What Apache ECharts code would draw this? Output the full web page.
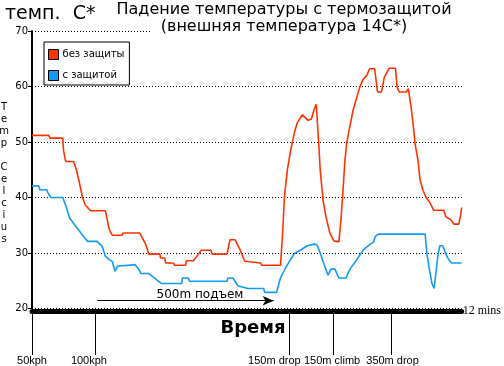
<!DOCTYPE html>
<html><head><meta charset="utf-8">
<script src="https://cdn.jsdelivr.net/npm/echarts@6/dist/echarts.min.js"></script>
<style>html,body{margin:0;padding:0;background:#fff}#c{width:504px;height:366px}</style>
</head><body><div id="c"></div>
<script>
// time in minutes, temperature in °C
const redTime = [0.00,0.47,0.50,0.86,0.88,0.94,1.16,1.24,1.33,1.41,1.49,1.58,1.63,2.05,2.10,2.16,2.24,2.52,2.54,3.01,3.10,3.18,3.26,3.57,3.59,3.71,3.73,3.95,3.98,4.29,4.31,4.51,4.65,4.73,5.00,5.03,5.45,5.53,5.67,5.81,5.94,5.97,6.39,6.41,6.94,7.00,7.05,7.13,7.22,7.33,7.41,7.55,7.60,7.71,7.80,7.88,7.94,8.02,8.05,8.13,8.21,8.32,8.43,8.57,8.63,8.68,8.74,8.79,8.88,8.96,9.04,9.15,9.24,9.35,9.43,9.57,9.65,9.76,9.84,9.98,10.15,10.20,10.26,10.45,10.51,10.59,10.65,10.70,10.78,10.84,10.92,11.00,11.11,11.22,11.50,11.56,11.70,11.78,11.92,11.97,12.00];
const redTemp = [51.2,51.2,50.7,50.7,48.5,46.5,46.5,45.0,42.5,40.0,38.6,38.0,37.6,37.6,36.0,34.2,33.2,33.2,33.6,33.6,32.5,31.5,29.8,29.8,29.1,29.1,28.2,28.2,27.8,27.8,28.6,28.6,29.8,30.5,30.5,29.8,29.8,32.4,32.4,30.6,28.5,28.2,28.2,27.8,27.8,33.6,40.1,44.9,48.4,51.7,53.5,54.9,55.0,53.9,54.1,55.9,56.8,48.4,44.9,39.5,36.5,33.6,32.2,32.0,36.0,40.7,46.7,49.9,52.9,55.5,57.4,59.8,61.2,62.0,63.2,63.2,59.0,59.0,61.7,63.3,63.3,59.8,59.0,59.0,59.6,56.2,52.9,49.6,46.7,43.1,41.3,40.1,39.1,37.7,37.7,36.5,36.0,35.2,35.2,36.8,38.2];

const blueTime = [0.00,0.19,0.22,0.41,0.47,0.53,0.86,0.97,1.05,1.19,1.33,1.47,1.55,1.82,1.96,2.05,2.16,2.24,2.32,2.38,2.43,2.88,2.99,3.04,3.26,3.40,3.54,3.62,4.18,4.20,4.37,4.40,5.45,5.47,5.61,5.75,6.03,6.47,6.50,6.83,6.94,7.08,7.22,7.33,7.49,7.69,7.88,7.96,8.05,8.16,8.27,8.35,8.46,8.57,8.77,8.88,9.07,9.26,9.43,9.54,9.59,9.68,10.98,11.03,11.09,11.17,11.23,11.28,11.34,11.39,11.47,11.56,11.64,11.72,12.00];
const blueTemp = [42.1,42.1,41.4,41.4,40.5,40.0,40.0,38.0,36.3,35.1,33.9,32.7,32.1,32.1,31.2,29.4,28.8,28.5,26.7,27.6,27.9,27.9,27.0,26.3,26.3,25.6,24.9,24.5,24.5,25.5,25.5,24.9,24.9,25.5,25.5,24.1,23.6,23.6,22.9,22.9,25.5,27.3,28.8,29.9,30.5,31.3,31.6,31.5,30.0,27.9,26.0,27.1,27.1,25.5,25.5,27.1,28.8,30.6,31.5,32.0,33.0,33.4,33.4,29.8,27.4,24.5,23.6,26.3,29.8,31.3,31.3,29.8,28.8,28.2,28.2];

const seriesNames = ['без защиты', 'с защитой'];
const yTicks = [20, 30, 40, 50, 60, 70];
const eventTicks = [0, 1.77, 7.19, 8.41, 10.04];
const eventLabelPos = [0, 1.59, 6.77, 8.38, 10.07];
const eventLabels = ['50kph', '100kph', '150m drop', '150m climb', '350m drop'];
const climbArrow = [[1.82, 21.4], [6.75, 21.4]];

const zip = (a, b) => a.map((v, i) => [v, b[i]]);

const chart = echarts.init(document.getElementById('c'), null, {renderer: 'canvas'});
chart.setOption({
  animation: false,
  backgroundColor: '#fff',
  grid: {left: 32, top: 31, width: 434, height: 280},
  legend: {
    left: 44, top: 42, orient: 'vertical', icon: 'rect',
    itemWidth: 10, itemHeight: 10, itemGap: 10,
    padding: [7, 5, 4, 4], borderColor: '#000', borderWidth: 1,
    backgroundColor: '#fff',
    itemStyle: {borderColor: '#000', borderWidth: 1},
    textStyle: {fontFamily: 'DejaVu Sans', fontSize: 10, color: '#000', padding: [0,0,0,-1]},
    data: seriesNames
  },
  xAxis: {
    type: 'value', min: 0, max: 12, offset: 2.5,
    name: '12 mins', nameLocation: 'end', nameGap: 1,
    nameTextStyle: {fontFamily: 'Liberation Serif', fontSize: 12, color: '#000'},
    axisLine: {show: true, lineStyle: {color: '#000', width: 5}},
    axisTick: {show: true, customValues: eventTicks, length: 44, lineStyle: {color: '#000', width: 1}},
    axisLabel: {
      show: true, customValues: eventLabelPos, margin: 44,
      fontFamily: 'Liberation Sans', fontSize: 11, color: '#000',
      formatter: v => { const i = eventLabelPos.findIndex(p => Math.abs(p - v) < 1e-6); return i >= 0 ? eventLabels[i] : ''; }
    },
    splitLine: {show: false}
  },
  yAxis: {
    type: 'value', min: 20, max: 70, interval: 10,
    axisLine: {show: true, lineStyle: {color: '#000', width: 2}},
    axisTick: {show: true, length: 4, lineStyle: {color: '#000'}},
    axisLabel: {margin: 4, fontFamily: 'DejaVu Sans', fontSize: 10, color: '#000'},
    splitLine: {show: true, lineStyle: {color: '#000', type: [1, 2], width: 1}}
  },
  series: [
    {
      name: seriesNames[0], type: 'line', data: zip(redTime, redTemp),
      showSymbol: false, symbol: 'none', color: '#ff3300',
      lineStyle: {color: '#ff3300', width: 1.6}, z: 3,
      markLine: {
        silent: true, symbol: ['none', 'arrow'], symbolSize: [7, 11],
        lineStyle: {color: '#000', type: 'solid', width: 1},
        label: {show: false},
        data: [[{coord: climbArrow[0]}, {coord: climbArrow[1]}]]
      }
    },
    {
      name: seriesNames[1], type: 'line', data: zip(blueTime, blueTemp),
      showSymbol: false, symbol: 'none', color: '#1499f5',
      lineStyle: {color: '#1499f5', width: 1.6}, z: 3
    }
  ],
  graphic: [
    {type: 'rect', z: 50, shape: {x: 152, y: 20, width: 352, height: 18}, style: {fill: '#fff'}},
    {type: 'text', z: 60, x: 5, y: 14, style: {text: 'темп.  С*', font: '19px "DejaVu Sans"', fill: '#000', verticalAlign: 'middle'}},
    {type: 'text', z: 60, x: 284, y: 10, style: {text: 'Падение температуры с термозащитой', font: '16px "DejaVu Sans"', fill: '#000', align: 'center', verticalAlign: 'middle'}},
    {type: 'text', z: 60, x: 284, y: 27, style: {text: '(внешняя температура 14С*)', font: '16px "DejaVu Sans"', fill: '#000', align: 'center', verticalAlign: 'middle'}},
    {type: 'text', z: 60, x: 4, y: 101, style: {text: 'T\ne\nm\np\n\nC\ne\nl\nc\ni\nu\ns', font: '10px "DejaVu Sans"', lineHeight: 12, fill: '#000', align: 'center'}},
    {type: 'text', z: 60, x: 200, y: 295, style: {text: '500m подъем', font: '12px "DejaVu Sans"', fill: '#000', align: 'center', verticalAlign: 'middle'}},
    {type: 'text', z: 60, x: 253, y: 328, style: {text: 'Время', font: 'bold 18px "DejaVu Sans"', fill: '#000', align: 'center', verticalAlign: 'middle'}}
  ]
});
</script></body></html>
